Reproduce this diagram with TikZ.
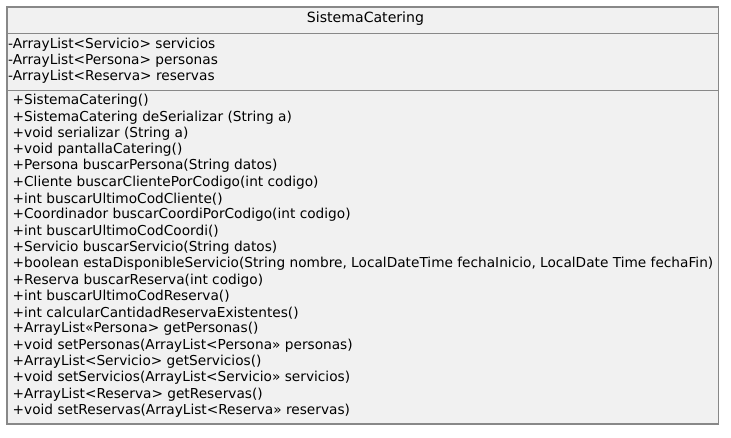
\documentclass[tikz,border=0pt]{standalone}
\usepackage{fontspec}
\setmainfont{DejaVu Sans}
\definecolor{classfill}{HTML}{F1F1F1}
\definecolor{classline}{HTML}{888888}
\tikzset{
  member/.style={anchor=west,inner sep=0pt,font=\fontsize{13.7}{15}\selectfont},
  field/.style={anchor=west,inner sep=0pt,font=\fontsize{13.7}{15}\selectfont}
}
\begin{document}
\begin{tikzpicture}[x=1pt,y=-1pt]
\useasboundingbox (0,0) rectangle (731,437);
\draw[classline, line width=1.3pt, fill=classfill] (7,7) rectangle (718.5,424);
\draw[classline, line width=1pt] (7,33)--(718.5,33);
\draw[classline, line width=1pt] (7,90)--(718.5,90);

\node (title) at (365.5,19) [inner sep=0pt,font=\fontsize{14.1}{15}\selectfont]{SistemaCatering};

\node (f1) at (8,45) [field]{-ArrayList<Servicio> servicios};
\node (f2) at (8,61) [field]{-ArrayList<Persona> personas};
\node (f3) at (8,77) [field]{-ArrayList<Reserva> reservas};

\foreach \txt [count=\i] in {
  +SistemaCatering(),
  +SistemaCatering deSerializar (String a),
  +void serializar (String a),
  +void pantallaCatering(),
  +Persona buscarPersona(String datos),
  +Cliente buscarClientePorCodigo(int codigo),
  +int buscarUltimoCodCliente(),
  +Coordinador buscarCoordiPorCodigo(int codigo),
  +int buscarUltimoCodCoordi(),
  +Servicio buscarServicio(String datos),
  {+boolean estaDisponibleServicio(String nombre, LocalDateTime fechaInicio, LocalDate Time fechaFin)},
  +Reserva buscarReserva(int codigo),
  +int buscarUltimoCodReserva(),
  +int calcularCantidadReservaExistentes(),
  +ArrayList«Persona> getPersonas(),
  +void setPersonas(ArrayList<Persona» personas),
  +ArrayList<Servicio> getServicios(),
  +void setServicios(ArrayList<Servicio» servicios),
  +ArrayList<Reserva> getReservas(),
  +void setReservas(ArrayList<Reserva» reservas)}
  \node (m\i) at (12.5,{101+(\i-1)*16.3}) [member]{\txt};

\end{tikzpicture}
\end{document}
